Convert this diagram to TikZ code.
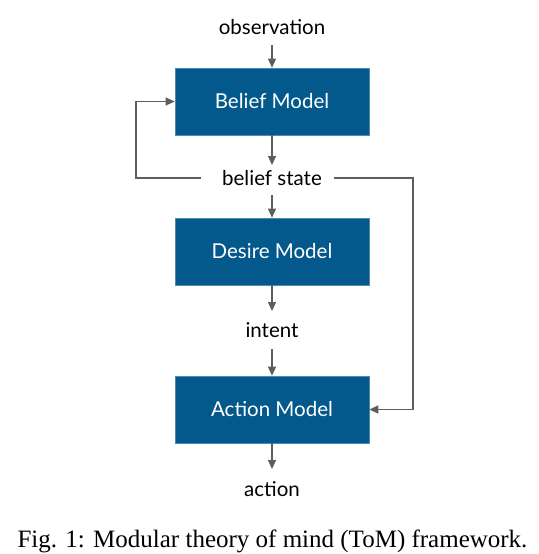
\documentclass[tikz,border=0pt]{standalone}
\usepackage{fontspec}
\setmainfont{Lato}
\newfontfamily\capfont{Liberation Serif}
\usetikzlibrary{arrows.meta}
\definecolor{boxblue}{HTML}{03588C}
\definecolor{linegray}{HTML}{5E5E5E}
\tikzset{
  model/.style={draw=boxblue!70!white, line width=0.6pt, fill=boxblue, text=white, minimum width=194pt, minimum height=67pt, inner sep=0pt, font=\fontsize{20.5}{24}\selectfont},
  lbl/.style={inner sep=0pt, font=\fontsize{20.5}{24}\selectfont, text=black},
  conn/.style={draw=linegray, line width=1.2pt, -{Triangle[length=9pt,width=8pt]}},
  plain/.style={draw=linegray, line width=1.2pt}
}
\begin{document}
\begin{tikzpicture}[x=1pt,y=-1pt]
\useasboundingbox (0,0) rectangle (538,554);
\node[lbl] (obs) at (272,27) {observation};
\node[model] (belief) at (272,101.5) {Belief Model};
\node[lbl] (bstate) at (272,178) {belief state};
\node[model] (desire) at (272,251.5) {Desire Model};
\node[lbl] (intent) at (272,330) {intent};
\node[model] (act) at (272,409.5) {Action Model};
\node[lbl] (action) at (272,489) {action};
\node[inner sep=0pt, font=\capfont\fontsize{25}{29}\selectfont] (cap) at (272.5,541) {Fig. 1: Modular theory of mind (ToM) framework.};
\coordinate (bl) at (201,178);
\coordinate (br) at (334,178);
\draw[conn] (272,45) -- (belief.north);
\draw[conn] (belief.south) -- (272,165);
\draw[conn] (272,195) -- (desire.north);
\draw[conn] (desire.south) -- (272,311);
\draw[conn] (272,349) -- (act.north);
\draw[conn] (act.south) -- (272,469);
\draw[conn] (bl) -- (136,178) |- (belief.west);
\draw[conn] (br) -- (413,178) |- (act.east);
\end{tikzpicture}
\end{document}
